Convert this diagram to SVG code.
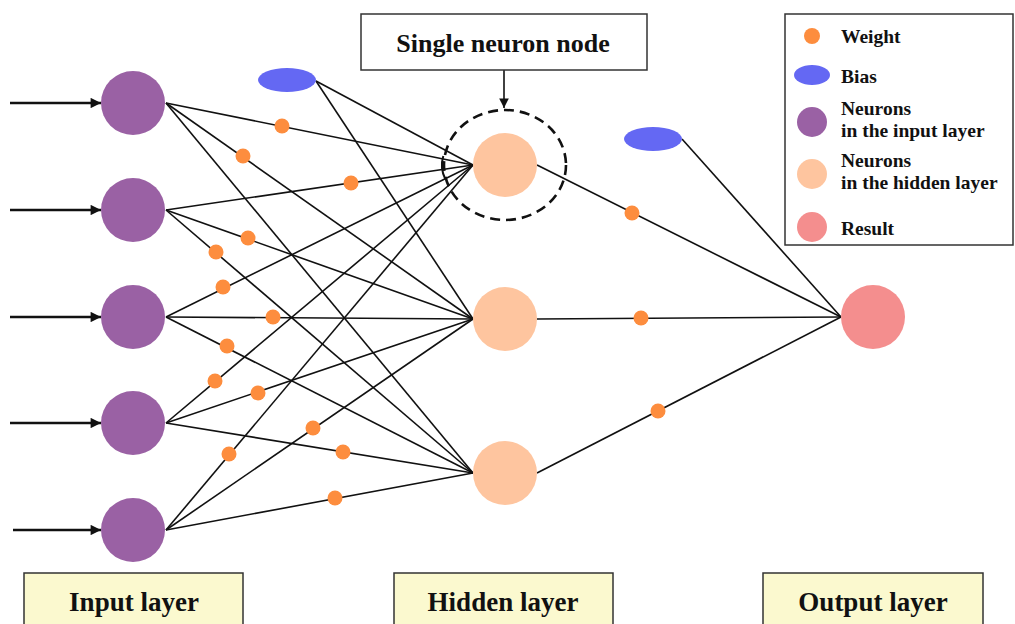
<svg xmlns="http://www.w3.org/2000/svg" width="1015" height="624" viewBox="0 0 1015 624">
<style>
.txt{font-family:"Liberation Serif","Times New Roman",serif;font-weight:bold;fill:#111}
.lbl{font-size:27px;text-anchor:middle}
.leg{font-size:19.5px}
.edge{stroke:#111;stroke-width:1.6;fill:none}
.in{fill:#9A61A4}
.hid{fill:#FEC59F}
.out{fill:#F48E8E}
.bias{fill:#6468F3}
.w{fill:#FD8D3E}
.box{fill:#FBF9CF;stroke:#333;stroke-width:1.5}
.arrow{stroke:#111;stroke-width:2.6;fill:none;marker-end:url(#ah)}
</style>
<defs>
<marker id="ah" viewBox="0 0 10 10" refX="10" refY="5" markerWidth="4.2" markerHeight="4" orient="auto" markerUnits="strokeWidth">
<path d="M0,0 L10,5 L0,10 Z" fill="#111"/>
</marker>
<marker id="ah2" viewBox="0 0 10 10" refX="10" refY="5" markerWidth="6" markerHeight="6" orient="auto" markerUnits="strokeWidth">
<path d="M0,0 L10,5 L0,10 Z" fill="#111"/>
</marker>
</defs>
<rect width="1015" height="624" fill="#fff"/>

<g id="connectors">
<line class="arrow" x1="10" y1="103" x2="101" y2="103"/>
<line class="arrow" x1="10" y1="210" x2="101" y2="210"/>
<line class="arrow" x1="10" y1="317" x2="101" y2="317"/>
<line class="arrow" x1="10" y1="423" x2="101" y2="423"/>
<line class="arrow" x1="13" y1="530" x2="101" y2="530"/>
<g class="edge">
<line x1="166" y1="103" x2="473" y2="165"/>
<line x1="166" y1="103" x2="473" y2="319"/>
<line x1="166" y1="103" x2="473" y2="473"/>
<line x1="166" y1="210" x2="473" y2="165"/>
<line x1="166" y1="210" x2="473" y2="319"/>
<line x1="166" y1="210" x2="473" y2="473"/>
<line x1="166" y1="317" x2="473" y2="165"/>
<line x1="166" y1="317" x2="473" y2="319"/>
<line x1="166" y1="317" x2="473" y2="473"/>
<line x1="166" y1="423" x2="473" y2="165"/>
<line x1="166" y1="423" x2="473" y2="319"/>
<line x1="166" y1="423" x2="473" y2="473"/>
<line x1="166" y1="530" x2="473" y2="165"/>
<line x1="166" y1="530" x2="473" y2="319"/>
<line x1="166" y1="530" x2="473" y2="473"/>
<line x1="316" y1="81" x2="473" y2="165"/>
<line x1="316" y1="81" x2="473" y2="319"/>
<line x1="537" y1="165" x2="841" y2="317"/>
<line x1="537" y1="319" x2="841" y2="317"/>
<line x1="537" y1="473" x2="841" y2="317"/>
<line x1="682" y1="139" x2="841" y2="317"/>
<path d="M443.3,156 A31,31 0 0 0 445.3,179" stroke-width="2"/>
</g>
<line x1="504" y1="70" x2="504" y2="108" stroke="#111" stroke-width="1.6" marker-end="url(#ah2)"/>
<g id="weights" class="w">
<circle cx="282" cy="126" r="7.5"/>
<circle cx="243" cy="156" r="7.5"/>
<circle cx="351" cy="183" r="7.5"/>
<circle cx="248" cy="238" r="7.5"/>
<circle cx="216" cy="252" r="7.5"/>
<circle cx="223" cy="287" r="7.5"/>
<circle cx="273" cy="317" r="7.5"/>
<circle cx="227" cy="346" r="7.5"/>
<circle cx="215" cy="381" r="7.5"/>
<circle cx="258" cy="393" r="7.5"/>
<circle cx="343" cy="452" r="7.5"/>
<circle cx="229" cy="454" r="7.5"/>
<circle cx="313" cy="428" r="7.5"/>
<circle cx="335" cy="498" r="7.5"/>
<circle cx="632" cy="213" r="7.5"/>
<circle cx="641" cy="318" r="7.5"/>
<circle cx="658" cy="411" r="7.5"/>
</g>
</g>

<g id="input1"><circle class="in" cx="133" cy="103" r="32"/></g>
<g id="input2"><circle class="in" cx="133" cy="210" r="32"/></g>
<g id="input3"><circle class="in" cx="133" cy="317" r="32"/></g>
<g id="input4"><circle class="in" cx="133" cy="423" r="32"/></g>
<g id="input5"><circle class="in" cx="133" cy="530" r="32"/></g>
<g id="bias1"><ellipse class="bias" cx="287" cy="80" rx="29" ry="12"/></g>
<g id="hidden1"><circle class="hid" cx="505" cy="165" r="32"/>
<ellipse cx="505" cy="165" rx="61" ry="55" fill="none" stroke="#111" stroke-width="2.6" stroke-dasharray="10 6"/></g>
<g id="hidden2"><circle class="hid" cx="505" cy="319" r="32"/></g>
<g id="hidden3"><circle class="hid" cx="505" cy="473" r="32"/></g>
<g id="bias2"><ellipse class="bias" cx="653" cy="139" rx="29" ry="12"/></g>
<g id="output"><circle class="out" cx="873" cy="317" r="32"/></g>

<g id="callout">
<rect x="361" y="14" width="286" height="56" fill="#fff" stroke="#333" stroke-width="1.5"/>
<text class="txt" x="503" y="52" font-size="26" text-anchor="middle">Single neuron node</text>
</g>

<g id="legend">
<rect x="785" y="14" width="228" height="231" fill="#fff" stroke="#333" stroke-width="1.5"/>
<circle class="w" cx="812" cy="36" r="8"/>
<text class="txt leg" x="841" y="43">Weight</text>
<ellipse class="bias" cx="812" cy="75" rx="18" ry="10"/>
<text class="txt leg" x="841" y="83">Bias</text>
<circle class="in" cx="812" cy="122" r="15"/>
<text class="txt leg" x="841" y="115">Neurons</text>
<text class="txt leg" x="841" y="137">in the input layer</text>
<circle class="hid" cx="812" cy="174" r="15"/>
<text class="txt leg" x="841" y="167">Neurons</text>
<text class="txt leg" x="841" y="189">in the hidden layer</text>
<circle class="out" cx="812" cy="227" r="15"/>
<text class="txt leg" x="841" y="235">Result</text>
</g>

<g id="label-input">
<rect class="box" x="24" y="573" width="219" height="60"/>
<text class="txt lbl" x="134" y="611">Input layer</text>
</g>
<g id="label-hidden">
<rect class="box" x="394" y="573" width="219" height="60"/>
<text class="txt lbl" x="503" y="611">Hidden layer</text>
</g>
<g id="label-output">
<rect class="box" x="763" y="573" width="220" height="60"/>
<text class="txt lbl" x="873" y="611">Output layer</text>
</g>
</svg>
